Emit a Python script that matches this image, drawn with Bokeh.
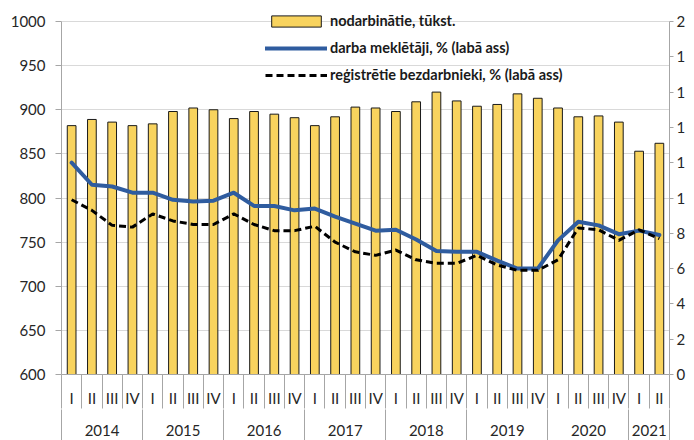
from bokeh.plotting import figure
from bokeh.models import Range1d, LinearAxis, FixedTicker, Legend, LegendItem, ColumnDataSource
from bokeh.embed import file_html
from bokeh.resources import INLINE

# ---- data ----
years = ["2014", "2015", "2016", "2017", "2018", "2019", "2020", "2021"]
quarters_per_year = [4, 4, 4, 4, 4, 4, 4, 2]
quarter_names = ["I", "II", "III", "IV"]

employed = [882, 889, 886, 882,
            884, 898, 902, 900,
            890, 898, 895, 891,
            882, 892, 903, 902,
            898, 909, 920, 910,
            904, 906, 918, 913,
            902, 892, 893, 886,
            853, 862]
jobseekers = [12.0, 10.75, 10.65, 10.3,
              10.3, 9.9, 9.8, 9.85,
              10.3, 9.55, 9.55, 9.3,
              9.4, 8.95, 8.55, 8.15,
              8.2, 7.65, 7.0, 6.95,
              6.95, 6.45, 6.0, 6.0,
              7.6, 8.65, 8.45, 7.95,
              8.15, 7.9]
registered = [9.9, 9.3, 8.45, 8.35,
              9.1, 8.7, 8.5, 8.5,
              9.1, 8.5, 8.15, 8.15,
              8.4, 7.5, 6.95, 6.75,
              7.05, 6.5, 6.3, 6.3,
              6.75, 6.2, 5.9, 5.9,
              6.5, 8.3, 8.2, 7.6,
              8.2, 7.7]

label_employed = "nodarbinātie, tūkst."
label_jobseekers = "darba meklētāji, % (labā ass)"
label_registered = "reģistrētie bezdarbnieki, % (labā ass)"

left_ticks = [600, 650, 700, 750, 800, 850, 900, 950, 1000]
right_ticks = [0, 2, 4, 6, 8, 10, 12, 14, 16, 18, 20]
right_tick_labels = ["0", "2", "4", "6", "8", "1", "1", "1", "1", "1", "2"]

# ---- layout (pixels) ----
W, H = 694, 440
BORDER_L, BORDER_R, BORDER_T, BORDER_B = 61, 25, 4, 66
AXIS_TOP_PX = 21          # where the top tick (1000 / 20) sits
frame_h = H - BORDER_T - BORDER_B
axis_h = frame_h - (AXIS_TOP_PX - BORDER_T)
left_span = left_ticks[-1] - left_ticks[0]
right_span = right_ticks[-1] - right_ticks[0]
left_end = left_ticks[0] + left_span * frame_h / axis_h
right_end = right_ticks[0] + right_span * frame_h / axis_h

# ---- derived positions ----
q_labels = []
for n in quarters_per_year:
    q_labels += quarter_names[:n]
n_q = len(q_labels)
idx = list(range(n_q))

year_centers = []
year_bounds = [-0.5]
start = 0
for n in quarters_per_year:
    year_centers.append(start + (n - 1) / 2)
    start += n
    year_bounds.append(start - 0.5)
q_bounds = [i - 0.5 for i in range(n_q + 1)]

FONT = "Lato"
TXT = "#262626"
AXIS_GRAY = "#a6a6a6"

src = ColumnDataSource(dict(x=idx, employed=employed, jobseekers=jobseekers, registered=registered))

p = figure(width=W, height=H, output_backend="svg", toolbar_location=None,
           x_range=Range1d(-0.5, n_q - 0.5), y_range=Range1d(left_ticks[0], left_end),
           min_border_left=BORDER_L, min_border_right=BORDER_R,
           min_border_top=BORDER_T, min_border_bottom=BORDER_B)
p.extra_y_ranges = {"right": Range1d(right_ticks[0], right_end)}
p.outline_line_color = None
p.background_fill_color = "white"
p.border_fill_color = "white"

# grid
p.xgrid.visible = False
p.ygrid.ticker = FixedTicker(ticks=left_ticks)
p.ygrid.grid_line_color = "#d9d9d9"
p.ygrid.grid_line_width = 1

bars = p.vbar(x="x", top="employed", bottom=left_ticks[0], width=0.43, source=src,
              fill_color="#F8D35E", line_color="#1a1a1a", line_width=1)
l1 = p.line(x="x", y="jobseekers", source=src, y_range_name="right",
            line_color="#2F5C9F", line_width=4, line_join="round", line_cap="round")
l2 = p.line(x="x", y="registered", source=src, y_range_name="right",
            line_color="black", line_width=3, line_dash="7 4")

# left axis
ya = p.yaxis[0]
ya.ticker = FixedTicker(ticks=left_ticks)
ya.bounds = (left_ticks[0], left_ticks[-1])
ya.axis_line_color = AXIS_GRAY
ya.major_tick_line_color = AXIS_GRAY
ya.major_tick_out = 6
ya.major_tick_in = 0
ya.minor_tick_line_color = None
ya.minor_tick_out = 0
ya.minor_tick_in = 0
ya.major_label_standoff = 10
ya.major_label_text_font = FONT
ya.major_label_text_font_size = "15px"
ya.major_label_text_color = TXT

# right axis
ra = LinearAxis(y_range_name="right", ticker=FixedTicker(ticks=right_ticks))
ra.bounds = (right_ticks[0], right_ticks[-1])
ra.major_label_overrides = {t: s for t, s in zip(right_ticks, right_tick_labels)}
ra.axis_line_color = AXIS_GRAY
ra.major_tick_line_color = AXIS_GRAY
ra.major_tick_out = 4
ra.major_tick_in = 0
ra.minor_tick_line_color = None
ra.minor_tick_out = 0
ra.minor_tick_in = 0
ra.major_label_standoff = 3
ra.major_label_text_font = FONT
ra.major_label_text_font_size = "15px"
ra.major_label_text_color = TXT
p.add_layout(ra, "right")

# quarter axis (minor ticks used as separators)
xa = p.xaxis[0]
xa.ticker = FixedTicker(ticks=idx, minor_ticks=q_bounds)
xa.major_label_overrides = {i: s for i, s in zip(idx, q_labels)}
xa.axis_line_color = AXIS_GRAY
xa.major_tick_out = 0
xa.major_tick_in = 0
xa.major_tick_line_color = None
xa.minor_tick_line_color = AXIS_GRAY
xa.minor_tick_out = 34
xa.minor_tick_in = 0
xa.major_label_standoff = -20
xa.major_label_text_font = FONT
xa.major_label_text_font_size = "15px"
xa.major_label_text_color = TXT

# year axis
ye = LinearAxis(ticker=FixedTicker(ticks=year_centers, minor_ticks=year_bounds))
ye.major_label_overrides = {c: y for c, y in zip(year_centers, years)}
ye.axis_line_color = None
ye.major_tick_out = 0
ye.major_tick_in = 0
ye.major_tick_line_color = None
ye.minor_tick_line_color = AXIS_GRAY
ye.minor_tick_out = 40
ye.minor_tick_in = 0
ye.major_label_standoff = -25
ye.major_label_text_font = FONT
ye.major_label_text_font_size = "15px"
ye.major_label_text_color = TXT
p.add_layout(ye, "below")

legend = Legend(items=[LegendItem(label=label_employed, renderers=[bars]),
                       LegendItem(label=label_jobseekers, renderers=[l1]),
                       LegendItem(label=label_registered, renderers=[l2])],
                location=(204, 291), orientation="vertical",
                glyph_width=62, glyph_height=14, label_height=14, label_standoff=3,
                spacing=10, padding=0, margin=0,
                label_text_font=FONT, label_text_font_style="bold",
                label_text_font_size="14.5px", label_text_color="#1a1a1a",
                background_fill_alpha=0, border_line_color=None)
p.add_layout(legend)

open("out.html", "w").write(file_html(p, INLINE))
